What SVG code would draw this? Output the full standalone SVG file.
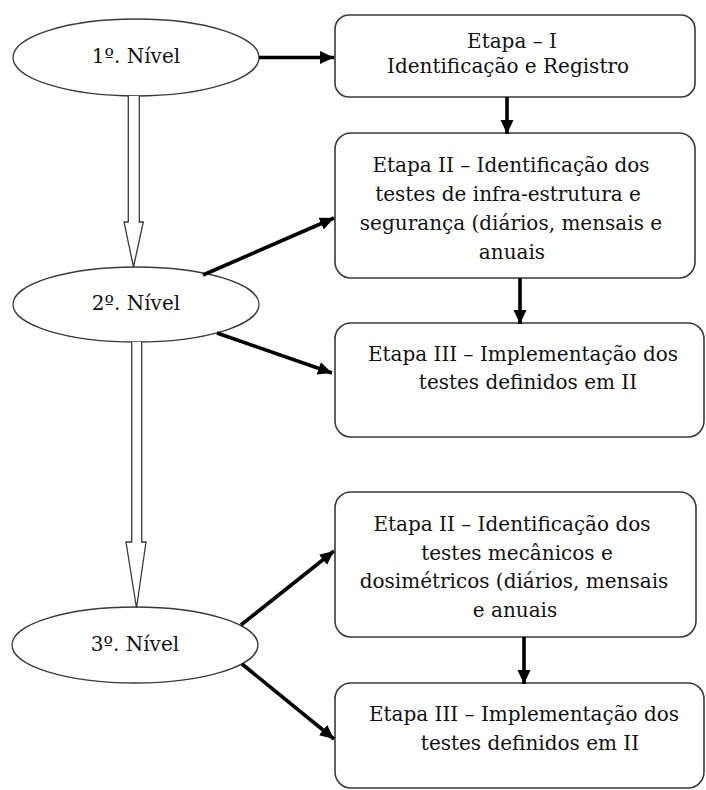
<svg xmlns="http://www.w3.org/2000/svg" width="706" height="790" viewBox="0 0 706 790">
  <defs>
    <style>
      .lvl { fill: #ffffff; stroke: #3a3a3a; stroke-width: 1.3; }
      .step { fill: #ffffff; stroke: #3a3a3a; stroke-width: 1.6; }
      text { font-family: 'DejaVu Serif', serif; font-size: 20px; fill: #111111; text-anchor: middle; }
      .link { fill: none; stroke: #000000; stroke-width: 3.6; }
      .hollow { fill: #ffffff; stroke: #3a3a3a; stroke-width: 1.3; stroke-linejoin: miter; }
    </style>
    <marker id="head" markerUnits="userSpaceOnUse" markerWidth="16" markerHeight="14" refX="14" refY="6.5" orient="auto">
      <path d="M0,0 L14,6.5 L0,13 Z" fill="#000000"/>
    </marker>
  </defs>

  <!-- level ellipses -->
  <g id="nivel1">
    <ellipse class="lvl" cx="136" cy="57.5" rx="123" ry="38.5"/>
    <text x="136" y="63">1º. Nível</text>
  </g>
  <g id="nivel2">
    <ellipse class="lvl" cx="136" cy="304.5" rx="123" ry="37.5"/>
    <text x="136" y="310">2º. Nível</text>
  </g>
  <g id="nivel3">
    <ellipse class="lvl" cx="135" cy="645" rx="123" ry="38"/>
    <text x="135" y="651">3º. Nível</text>
  </g>

  <!-- stage boxes -->
  <g id="etapa1">
    <rect class="step" x="335" y="15" width="360" height="82" rx="14"/>
    <text x="512" y="48">Etapa – I</text>
    <text x="508" y="73">Identificação e Registro</text>
  </g>
  <g id="etapa2-infra">
    <rect class="step" x="335" y="133" width="360" height="145" rx="16"/>
    <text x="511" y="172">Etapa II – Identificação dos</text>
    <text x="508" y="201">testes de infra-estrutura e</text>
    <text x="511" y="230">segurança (diários, mensais e</text>
    <text x="512" y="259">anuais</text>
  </g>
  <g id="etapa3-infra">
    <rect class="step" x="335" y="323" width="369" height="114" rx="16"/>
    <text x="523" y="361">Etapa III – Implementação dos</text>
    <text x="528" y="389">testes definidos em II</text>
  </g>
  <g id="etapa2-mec">
    <rect class="step" x="335" y="492" width="361" height="145" rx="16"/>
    <text x="512" y="531">Etapa II – Identificação dos</text>
    <text x="517" y="560">testes mecânicos e</text>
    <text x="514" y="588">dosimétricos (diários, mensais</text>
    <text x="515" y="617">e anuais</text>
  </g>
  <g id="etapa3-mec">
    <rect class="step" x="335" y="683" width="369" height="105" rx="16"/>
    <text x="524" y="721">Etapa III – Implementação dos</text>
    <text x="530" y="750">testes definidos em II</text>
  </g>

  <!-- connectors -->
  <g id="connectors">
    <!-- hollow level-to-level arrows -->
    <path class="hollow" d="M128.3,96 L128.3,222 L124,222 L133.5,267 L143.3,222 L139.3,222 L139.3,96"/>
    <path class="hollow" d="M131.7,342 L131.7,542 L126,542 L136.5,608 L146,542 L141.7,542 L141.7,342"/>
    <!-- solid arrows -->
    <line class="link" x1="259" y1="57.5" x2="334" y2="57.5" marker-end="url(#head)"/>
    <line class="link" x1="507" y1="97" x2="507" y2="134" marker-end="url(#head)"/>
    <line class="link" x1="520" y1="278" x2="520" y2="324" marker-end="url(#head)"/>
    <line class="link" x1="524" y1="637" x2="524" y2="684" marker-end="url(#head)"/>
    <line class="link" x1="203" y1="275" x2="334" y2="218" marker-end="url(#head)"/>
    <line class="link" x1="217" y1="333" x2="332" y2="373" marker-end="url(#head)"/>
    <line class="link" x1="241" y1="625" x2="334" y2="551" marker-end="url(#head)"/>
    <line class="link" x1="242" y1="664" x2="334" y2="739" marker-end="url(#head)"/>
  </g>
</svg>
